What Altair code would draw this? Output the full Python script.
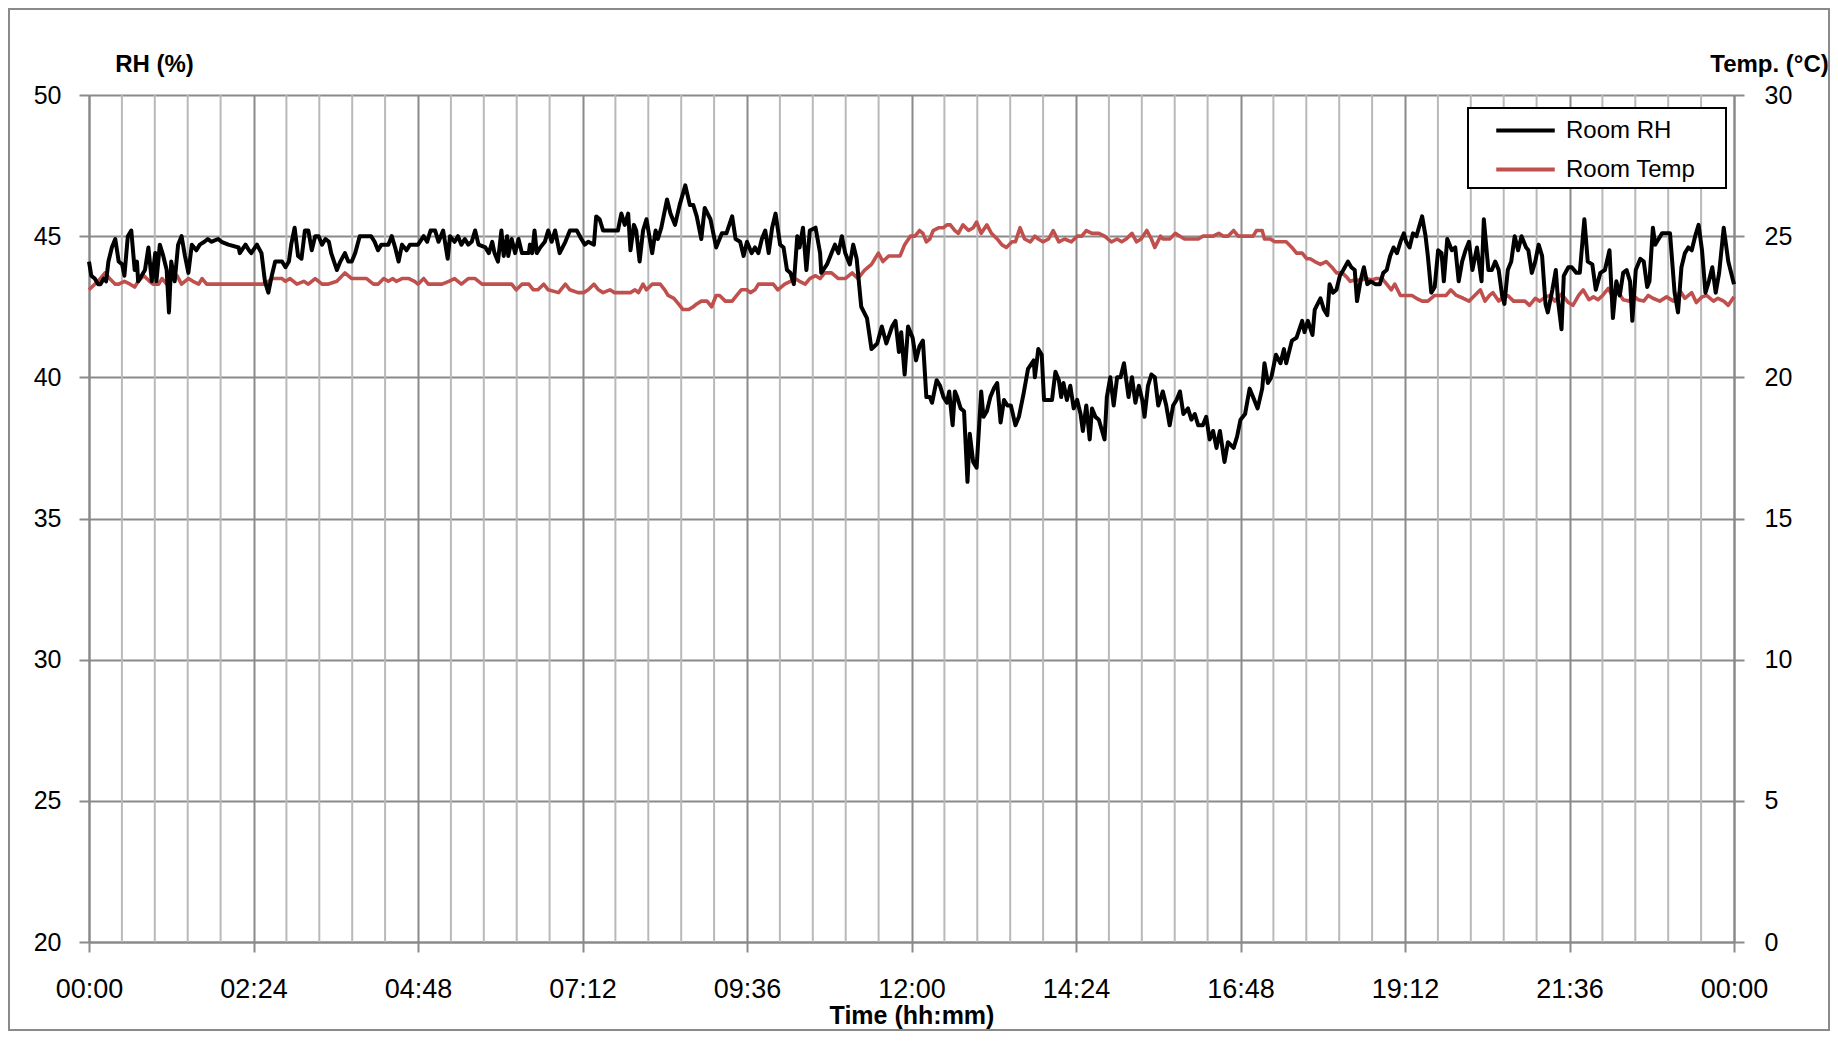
import altair as alt
import pandas as pd

# ---------------- data ----------------
rh_minutes = [0, 2, 5, 8, 10, 13, 15, 17, 20, 23, 26, 29, 31, 34, 37, 40, 42, 43, 46, 49, 52, 55, 58, 59, 62, 65, 68, 70, 72, 75, 78, 81, 84, 87, 90, 94, 97, 101, 104, 107, 113, 116, 122, 131, 132, 137, 140, 142, 147, 151, 154, 157, 160, 163, 169, 172, 175, 177, 180, 183, 186, 189, 192, 195, 198, 201, 204, 207, 210, 212, 217, 220, 224, 227, 230, 233, 237, 247, 250, 253, 256, 262, 265, 268, 271, 274, 278, 281, 288, 293, 296, 299, 303, 306, 310, 314, 316, 320, 323, 326, 329, 332, 335, 338, 341, 347, 350, 353, 355, 358,
              361, 363, 366, 367, 370, 373, 376, 379, 385, 386, 388, 390, 392, 395, 399, 402, 405, 408, 412, 417, 421, 427, 431, 434, 437, 442, 444, 447, 450, 463, 466, 469, 472, 474, 477, 479, 482, 485, 488, 493, 496, 498, 501, 506, 509, 513, 517, 522, 526, 529, 532, 536, 539, 544, 547, 549, 554, 558, 563, 566, 570, 573, 576, 580, 583, 586, 589, 592, 595, 598, 601, 605, 608, 611, 614, 617, 620, 622, 625, 628, 631, 636, 640, 641, 646, 650, 653, 656, 659, 662, 666, 669, 672, 676, 681, 685, 690, 694, 698, 703, 706, 709, 711, 714, 717,
              721, 724, 727, 730, 733, 736, 738, 742, 745, 748, 751, 753, 756, 758, 760, 763, 766, 769, 771, 774, 777, 781, 783, 786, 789, 792, 795, 798, 801, 804, 807, 811, 814, 818, 822, 827, 828, 831, 834, 836, 840, 843, 846, 849, 851, 853, 856, 859, 862, 865, 868, 870, 873, 876, 878, 881, 884, 889, 891, 894, 897, 900, 903, 906, 910, 913, 916, 919, 922, 924, 927, 930, 933, 936, 940, 943, 946, 949, 952, 955, 958, 962, 965, 968, 971, 975, 978, 981, 984, 987, 990, 994, 997, 1002, 1005, 1008, 1012, 1016, 1019, 1023, 1027, 1029, 1032, 1035, 1039, 1043, 1046, 1048, 1053, 1057, 1062, 1064, 1067, 1071, 1073, 1078,
              1081, 1084, 1086, 1089, 1092, 1095, 1098, 1102, 1105, 1108, 1110, 1113, 1116, 1119, 1122, 1126, 1130, 1133, 1136, 1139, 1142, 1145, 1148, 1151, 1153, 1156, 1159, 1162, 1167, 1170, 1172, 1175, 1178, 1181, 1184, 1186, 1189, 1193, 1196, 1199, 1202, 1205, 1208, 1211, 1215, 1219, 1221, 1225, 1228, 1231, 1234, 1237, 1239, 1242, 1245, 1248, 1251, 1254, 1258, 1260, 1263, 1266, 1269, 1272, 1275, 1277, 1281, 1284, 1286, 1289, 1291, 1295, 1298, 1302, 1305, 1309, 1312, 1316, 1319, 1323, 1327, 1331, 1334, 1337, 1340, 1343, 1346, 1349, 1351, 1354, 1358, 1361, 1364, 1366, 1369, 1371, 1374, 1377, 1381, 1384, 1388, 1391, 1394, 1397, 1400, 1403, 1406, 1409, 1412, 1415, 1418, 1421, 1424, 1427, 1431, 1435, 1440]
rh_values = [44.1, 43.6, 43.5, 43.3, 43.3, 43.5, 43.4, 44.1, 44.6, 44.9, 44.1, 44.0, 43.6, 45.0, 45.2, 43.8, 44.1, 43.4, 43.6, 43.8, 44.6, 43.4, 44.4, 43.4, 44.7, 44.3, 43.8, 42.3, 44.1, 43.4, 44.7, 45.0, 44.3, 43.7, 44.7, 44.5, 44.7, 44.8, 44.9, 44.8, 44.9, 44.8, 44.7, 44.6, 44.4, 44.7, 44.5, 44.4, 44.7, 44.4, 43.4, 43.0, 43.6, 44.1, 44.1, 43.9, 44.1, 44.7, 45.3, 44.3, 44.2, 45.2, 45.2, 44.5, 45.0, 45.0, 44.7, 44.9, 44.8, 44.4, 43.8, 44.1, 44.4, 44.1, 44.1, 44.4, 45.0, 45.0, 44.8, 44.5, 44.7, 44.7, 45.0, 44.6, 44.1, 44.7, 44.5, 44.7, 44.7, 45.0, 44.8, 45.2, 45.2, 44.8, 45.2, 44.2, 45.0, 44.8, 45.0, 44.7, 44.9, 44.7, 44.8, 45.2, 44.7, 44.6, 44.4, 44.8, 44.4, 44.1,
             45.2, 44.3, 45.0, 44.3, 44.9, 44.4, 44.9, 44.4, 44.4, 44.7, 44.4, 45.2, 44.4, 44.6, 44.8, 45.2, 44.8, 45.2, 44.4, 44.8, 45.2, 45.2, 44.9, 44.7, 44.8, 44.7, 45.7, 45.6, 45.2, 45.2, 45.8, 45.4, 45.8, 44.5, 45.4, 45.2, 44.1, 45.2, 45.6, 44.4, 45.2, 44.9, 45.3, 46.3, 45.8, 45.4, 46.1, 46.8, 46.1, 46.1, 45.7, 44.9, 46.0, 45.6, 45.0, 44.6, 45.1, 45.1, 45.7, 44.9, 44.8, 44.3, 44.8, 44.4, 44.6, 44.4, 44.9, 45.2, 44.4, 45.3, 45.8, 44.7, 44.6, 43.8, 43.7, 43.3, 45.0, 44.6, 45.3, 43.8, 45.2, 45.3, 44.4, 43.7, 44.0, 44.4, 44.7, 44.4, 45.0, 44.4, 44.0, 44.7, 44.2, 42.5, 42.1, 41.0, 41.2, 41.8, 41.2, 41.8, 42.0, 40.9, 41.6, 40.1, 41.8,
             41.4, 40.6, 41.1, 41.3, 39.3, 39.3, 39.1, 39.9, 39.7, 39.3, 39.1, 39.5, 38.3, 39.5, 39.3, 38.9, 38.8, 36.3, 38.0, 37.0, 36.8, 39.5, 38.6, 38.8, 39.3, 39.6, 39.8, 38.4, 39.2, 39.0, 39.0, 38.3, 38.6, 39.4, 40.3, 40.6, 40.0, 41.0, 40.8, 39.2, 39.2, 39.2, 40.2, 39.9, 39.3, 39.8, 39.2, 39.7, 38.9, 39.2, 38.7, 38.1, 39.0, 37.8, 38.9, 38.6, 38.5, 37.8, 39.3, 40.0, 39.0, 40.0, 40.0, 40.5, 39.3, 40.0, 39.1, 39.7, 39.2, 38.6, 39.7, 40.1, 40.0, 39.0, 39.5, 39.0, 38.3, 39.0, 39.2, 39.5, 38.7, 38.9, 38.5, 38.7, 38.3, 38.3, 38.6, 37.8, 38.1, 37.5, 38.1, 37.0, 37.7, 37.5, 37.9, 38.5, 38.7, 39.6, 39.3, 38.9, 39.6, 40.5, 39.8, 40.0, 40.8, 40.5, 41.0, 40.5, 41.3, 41.4, 42.0, 41.6, 42.0, 41.5, 42.4, 42.8,
             42.4, 42.2, 43.3, 43.0, 43.1, 43.6, 43.8, 44.1, 43.9, 43.8, 42.7, 43.4, 43.9, 43.3, 43.4, 43.3, 43.3, 43.7, 43.8, 44.3, 44.6, 44.4, 44.8, 45.1, 44.8, 44.6, 45.1, 45.0, 45.7, 45.0, 44.3, 43.0, 43.2, 44.5, 44.4, 43.4, 44.9, 44.5, 44.6, 43.4, 44.1, 44.5, 44.8, 43.8, 44.6, 43.4, 45.6, 43.8, 43.8, 44.1, 43.8, 42.9, 42.6, 43.8, 44.1, 45.0, 44.5, 45.0, 44.6, 44.5, 43.7, 44.1, 44.7, 44.3, 42.6, 42.3, 43.1, 43.8, 42.7, 41.7, 43.6, 43.9, 43.9, 43.7, 43.7, 45.6, 44.1, 44.0, 43.1, 43.7, 43.8, 44.5, 42.1, 43.4, 42.9, 43.7, 43.8, 43.4, 42.0, 43.8, 44.2, 44.1, 43.2, 43.4, 45.3, 44.7, 44.9, 45.1, 45.1, 45.1, 43.0, 42.3, 43.9, 44.4, 44.6, 44.5, 45.0, 45.4, 44.5, 43.0, 43.4, 43.9, 43.0, 43.7, 45.3, 44.1, 43.3]

temp_minutes = [0, 5, 10, 14, 18, 23, 26, 31, 36, 40, 43, 48, 53, 56, 61, 64, 68, 72, 77, 81, 87, 91, 96, 99, 103, 107, 125, 128, 134, 138, 142, 148, 154, 160, 169, 172, 176, 182, 188, 192, 198, 204, 209, 217, 224, 230, 236, 243, 249, 253, 258, 262, 266, 269, 274, 280, 285, 288, 293, 297, 309, 315, 320, 326, 332, 338, 344, 350, 354, 358,
                361, 367, 370, 374, 379, 385, 389, 393, 398, 402, 411, 417, 421, 428, 433, 437, 442, 446, 450, 456, 460, 474, 478, 481, 485, 488, 493, 500, 504, 507, 512, 516, 520, 525, 529, 532, 536, 541, 545, 549, 552, 557, 563, 567, 571, 576, 579, 583, 586, 590, 595, 599, 603, 609, 614, 618, 622, 627, 631, 636, 640, 644, 650, 656, 662, 668, 673, 679, 685, 691, 695, 700, 706, 710, 714, 719,
                723, 727, 730, 733, 736, 739, 744, 748, 751, 754, 758, 761, 765, 770, 774, 777, 781, 786, 790, 795, 799, 803, 808, 811, 815, 819, 824, 828, 831, 835, 840, 844, 849, 854, 860, 865, 869, 873, 878, 884, 889, 895, 900, 904, 908, 913, 917, 921, 926, 930, 933, 938, 940, 946, 951, 955, 959, 964, 968, 971, 975, 980, 984, 989, 993, 997, 1002, 1006, 1011, 1015, 1019, 1022, 1027, 1029, 1034, 1038, 1044, 1048, 1053, 1057, 1062, 1066, 1069, 1073, 1078,
                1083, 1088, 1092, 1097, 1101, 1104, 1108, 1114, 1118, 1123, 1127, 1132, 1136, 1140, 1143, 1148, 1152, 1158, 1162, 1167, 1172, 1178, 1184, 1188, 1192, 1197, 1203, 1208, 1213, 1218, 1222, 1226, 1229, 1234, 1238, 1242, 1247, 1251, 1257, 1261, 1266, 1270, 1275, 1279, 1283, 1289, 1295, 1299, 1304, 1308, 1313, 1317, 1321, 1325, 1330, 1334, 1339, 1343, 1348, 1352, 1356, 1361, 1365, 1369, 1375, 1381, 1387, 1393, 1397, 1403, 1407, 1412, 1416, 1422, 1426, 1431, 1435, 1440]
temp_values = [23.1, 23.3, 23.5, 23.7, 23.5, 23.3, 23.3, 23.4, 23.3, 23.2, 23.4, 23.6, 23.4, 23.3, 23.3, 23.5, 23.3, 23.7, 23.6, 23.3, 23.5, 23.4, 23.3, 23.5, 23.3, 23.3, 23.3, 23.3, 23.3, 23.3, 23.3, 23.3, 23.3, 23.5, 23.5, 23.4, 23.5, 23.3, 23.4, 23.3, 23.5, 23.3, 23.3, 23.4, 23.7, 23.5, 23.5, 23.5, 23.3, 23.3, 23.5, 23.4, 23.5, 23.4, 23.5, 23.5, 23.4, 23.3, 23.5, 23.3, 23.3, 23.4, 23.5, 23.3, 23.5, 23.5, 23.3, 23.3, 23.3, 23.3,
               23.3, 23.3, 23.3, 23.1, 23.3, 23.3, 23.1, 23.1, 23.3, 23.1, 23.0, 23.3, 23.1, 23.0, 23.0, 23.1, 23.3, 23.1, 23.0, 23.1, 23.0, 23.0, 23.1, 23.0, 23.3, 23.1, 23.3, 23.3, 23.1, 22.9, 22.8, 22.6, 22.4, 22.4, 22.5, 22.6, 22.7, 22.7, 22.5, 22.9, 22.9, 22.7, 22.7, 22.9, 23.1, 23.1, 23.0, 23.1, 23.3, 23.3, 23.3, 23.3, 23.1, 23.3, 23.4, 23.5, 23.4, 23.3, 23.5, 23.6, 23.5, 23.7, 23.7, 23.5, 23.5, 23.7, 23.5, 23.8, 24.0, 24.4, 24.1, 24.3, 24.3, 24.3, 24.7, 25.0,
               25.0, 25.2, 25.1, 24.8, 24.9, 25.2, 25.3, 25.3, 25.4, 25.4, 25.2, 25.1, 25.4, 25.2, 25.3, 25.5, 25.1, 25.4, 25.1, 24.9, 24.7, 24.6, 24.8, 24.8, 25.3, 24.9, 24.8, 25.0, 24.9, 24.8, 24.9, 25.2, 24.8, 24.9, 24.8, 25.0, 25.0, 25.2, 25.1, 25.1, 25.0, 24.8, 24.9, 24.8, 24.9, 25.1, 24.8, 24.9, 25.2, 24.9, 24.6, 25.0, 24.9, 24.9, 25.1, 25.0, 24.9, 24.9, 24.9, 24.9, 25.0, 25.0, 25.0, 25.1, 25.0, 25.0, 25.2, 25.0, 25.0, 25.0, 25.0, 25.2, 25.2, 24.9, 24.9, 24.8, 24.8, 24.8, 24.6, 24.4, 24.4, 24.2, 24.2, 24.1, 24.0,
               24.1, 23.9, 23.7, 23.7, 23.55, 23.4, 23.45, 23.45, 23.5, 23.45, 23.5, 23.5, 23.3, 23.1, 23.3, 22.9, 22.9, 22.9, 22.8, 22.7, 22.7, 22.9, 22.9, 22.9, 23.1, 22.9, 22.8, 22.7, 22.9, 23.1, 22.7, 22.9, 23.0, 22.7, 22.85, 22.9, 22.7, 22.7, 22.7, 22.55, 22.8, 22.7, 22.85, 22.9, 22.7, 22.95, 22.65, 22.55, 22.9, 23.1, 22.75, 22.85, 22.75, 22.9, 23.15, 22.85, 23.0, 22.75, 22.7, 22.9, 22.75, 22.7, 22.9, 22.8, 22.7, 22.85, 22.7, 23.05, 22.8, 23.0, 22.65, 22.85, 22.9, 22.7, 22.8, 22.7, 22.55, 22.85]

series_names = ["Room RH", "Room Temp"]
series_colors = ["#000000", "#C0504D"]
rh_ticks = [20, 25, 30, 35, 40, 45, 50]
temp_ticks = [0, 5, 10, 15, 20, 25, 30]
time_major = [0, 144, 288, 432, 576, 720, 864, 1008, 1152, 1296, 1440]
time_minor = [round(i * 28.8, 6) for i in range(51) if i % 5 != 0]

# ---------------- chart ----------------
W, H = 1645, 847
PAD = {"left": 81, "top": 87, "right": 96, "bottom": 89}
FONT = "Liberation Sans"
GRID_DARK = "#8a8a8a"
GRID_LIGHT = "#b9b9b9"

rh_df = pd.DataFrame({"minute": rh_minutes, "value": rh_values, "series": series_names[0]})
temp_df = pd.DataFrame({"minute": temp_minutes, "value": temp_values, "series": series_names[1]})
minor_df = pd.DataFrame({"minute": time_minor})
one = pd.DataFrame({"k": [0]})

label_expr = ("(floor(datum.value/60)%24 < 10 ? '0' : '') + (floor(datum.value/60)%24) + ':' + "
              "(datum.value%60 < 10 ? '0' : '') + (datum.value%60)")

x_axis = alt.Axis(values=time_major, grid=True, gridColor=GRID_DARK, gridWidth=2,
                  domain=True, domainColor=GRID_DARK, domainWidth=2,
                  ticks=True, tickColor=GRID_DARK, tickWidth=2, tickSize=10,
                  labelExpr=label_expr, labelFontSize=27, labelFont=FONT, labelColor="black",
                  labelBaseline="alphabetic", labelPadding=45, labelFlush=False,
                  title="Time (hh:mm)", titleFont=FONT, titleFontSize=25, titleFontWeight="bold",
                  titleColor="black", titleBaseline="alphabetic", titleY=81, titleX=W / 2,
                  titleAlign="center")
x_scale = alt.Scale(domain=[0, 1440], nice=False, zero=False)
x_enc = alt.X("minute:Q", scale=x_scale, axis=x_axis)

color_enc = alt.Color(
    "series:N",
    scale=alt.Scale(domain=series_names, range=series_colors),
    legend=alt.Legend(title=None, orient="none", legendX=1415, legendY=14, direction="vertical",
                      symbolType="M-1.5,0H1.5", symbolSize=1521, symbolStrokeWidth=4,
                      labelFontSize=24, labelFont=FONT, labelColor="black", labelOffset=19,
                      rowPadding=5, padding=0, symbolOffset=0),
)

minor = alt.Chart(minor_df).mark_rule(color=GRID_LIGHT, strokeWidth=2).encode(x=x_enc)

temp_line = alt.Chart(temp_df).mark_line(strokeWidth=3.6, strokeJoin="round").encode(
    x=x_enc,
    y=alt.Y("value:Q", scale=alt.Scale(domain=[0, 30], nice=False, zero=False),
            axis=alt.Axis(orient="right", values=temp_ticks, grid=False,
                          domain=True, domainColor=GRID_DARK, domainWidth=2,
                          tickColor=GRID_DARK, tickWidth=2, tickSize=10,
                          labelFontSize=25, labelFont=FONT, labelColor="black", labelPadding=20,
                          title="Temp. (°C)", titleAngle=0, titleX=35, titleY=-24,
                          titleAlign="center", titleBaseline="alphabetic",
                          titleFont=FONT, titleFontSize=24, titleFontWeight="bold",
                          titleColor="black")),
    color=color_enc,
)

rh_line = alt.Chart(rh_df).mark_line(strokeWidth=4, strokeJoin="round").encode(
    x=x_enc,
    y=alt.Y("value:Q", scale=alt.Scale(domain=[20, 50], nice=False, zero=False),
            axis=alt.Axis(orient="left", values=rh_ticks, grid=True, gridColor=GRID_DARK, gridWidth=2,
                          domain=True, domainColor=GRID_DARK, domainWidth=2,
                          tickColor=GRID_DARK, tickWidth=2, tickSize=10,
                          labelFontSize=25, labelFont=FONT, labelColor="black", labelPadding=18,
                          title="RH (%)", titleAngle=0, titleX=65, titleY=-24,
                          titleAlign="center", titleBaseline="alphabetic",
                          titleFont=FONT, titleFontSize=24, titleFontWeight="bold",
                          titleColor="black")),
    color=color_enc,
)

legend_box = alt.Chart(one).mark_rect(fill="white", stroke="black", strokeWidth=2).encode(
    x=alt.value(1379), x2=alt.value(1637), y=alt.value(13), y2=alt.value(93))

frame = alt.Chart(one).mark_rect(fill=None, stroke="#8a8a8a", strokeWidth=2).encode(
    x=alt.value(-PAD["left"] + 1), x2=alt.value(W + PAD["right"] - 1),
    y=alt.value(-PAD["top"] + 1), y2=alt.value(H + PAD["bottom"] - 1))

chart = alt.layer(minor, temp_line, rh_line, legend_box, frame).resolve_scale(
    y="independent"
).properties(
    width=W, height=H,
    autosize=alt.AutoSizeParams(type="none"),
    padding=PAD,
    background="white",
).configure_view(stroke=None)

chart.save("out.html", embed_options={"renderer": "svg", "actions": False})
